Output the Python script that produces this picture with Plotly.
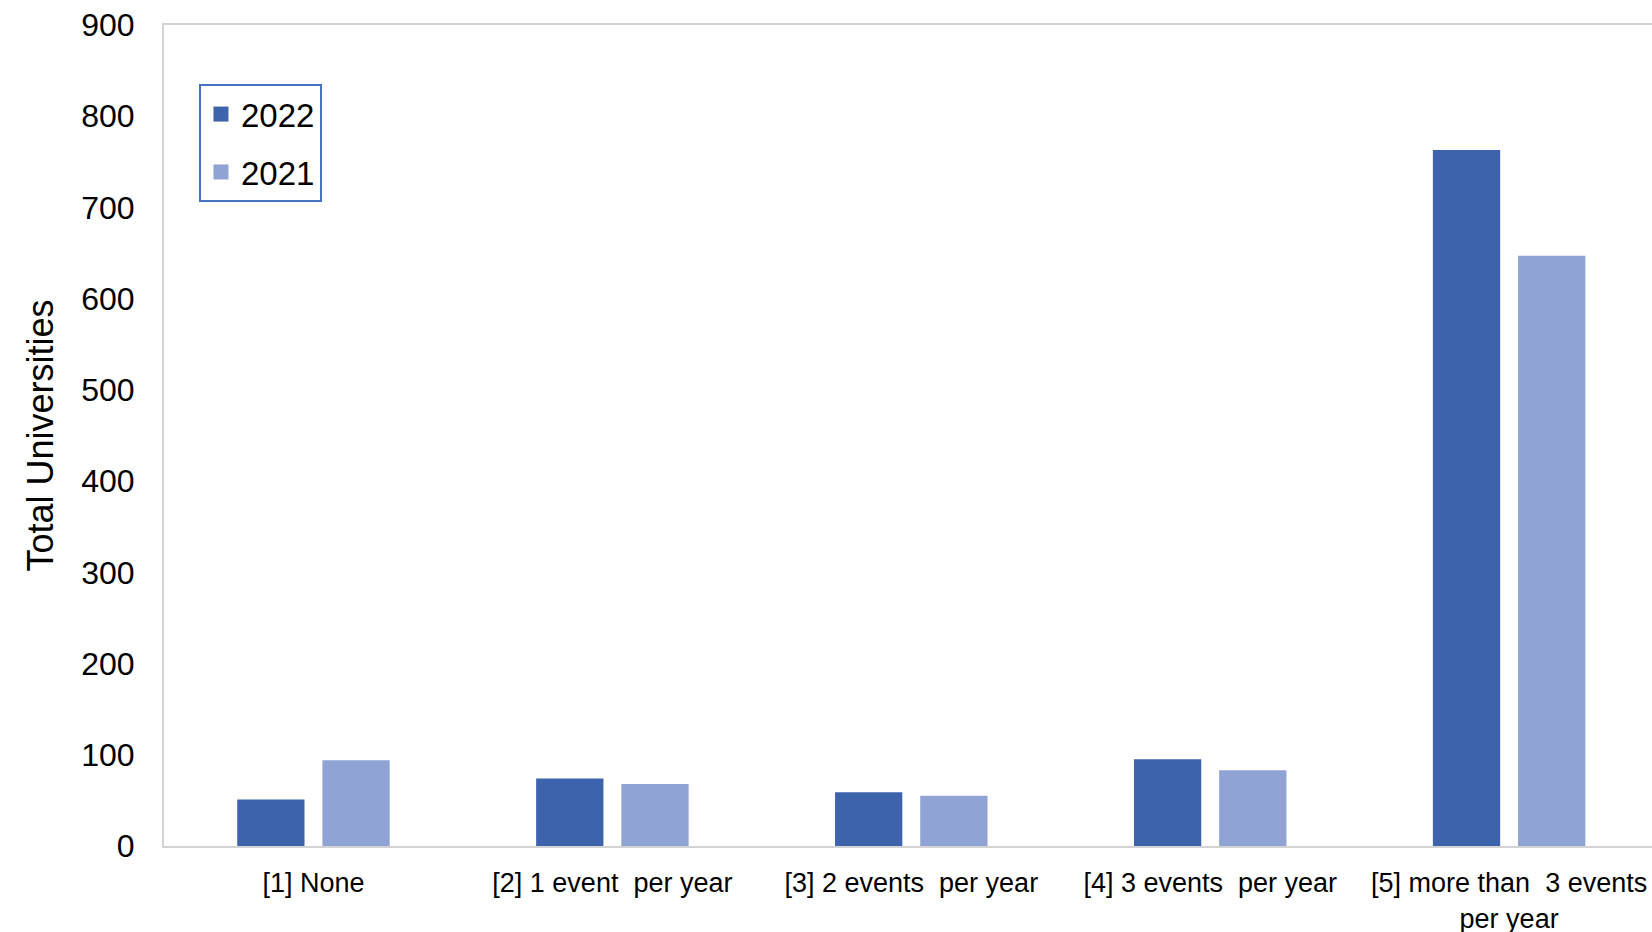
import plotly.graph_objects as go

# Event frequency categories and counts per survey year
categories = [
    "[1] None",
    "[2] 1 event\u00a0 per year",
    "[3] 2 events\u00a0 per year",
    "[4] 3 events\u00a0 per year",
    "[5] more than\u00a0 3 events<br>per year",
]
values_2022 = [51, 74, 59, 95, 763]
values_2021 = [94, 68, 55, 83, 647]

y_ticks = [0, 100, 200, 300, 400, 500, 600, 700, 800, 900]

color_2022 = "#3C63AC"
color_2021 = "#8FA3D4"
font_family = "Liberation Sans, Arial, sans-serif"

fig = go.Figure()
fig.add_trace(go.Bar(x=categories, y=values_2022, name="2022",
                     marker=dict(color=color_2022, line=dict(width=0)),
                     showlegend=False))
fig.add_trace(go.Bar(x=categories, y=values_2021, name="2021",
                     marker=dict(color=color_2021, line=dict(width=0)),
                     showlegend=False))

# Legend entries with square swatches
for name, col, grp in [("2022", color_2022, "a"), ("2021", color_2021, "b")]:
    fig.add_trace(go.Scatter(x=[None], y=[None], mode="markers", name=name,
                             legendgroup=grp,
                             marker=dict(symbol="square", size=15, color=col)))

fig.update_layout(
    width=1652, height=932,
    margin=dict(l=164, r=0, t=25, b=86, autoexpand=False),
    paper_bgcolor="white", plot_bgcolor="white",
    barmode="group", bargap=0.43, bargroupgap=0.21,
    font=dict(family=font_family, color="#000000"),
    legend=dict(
        x=0.0235, y=0.928, xanchor="left", yanchor="top",
        bordercolor="#4472C4", borderwidth=2, bgcolor="white",
        font=dict(size=33, family=font_family),
        tracegroupgap=12, itemwidth=30,
    ),
    xaxis=dict(
        type="category", range=[-0.5, 4.478], automargin=False,
        showline=True, linecolor="#D3D3D3", linewidth=2, mirror=True,
        showgrid=False, ticks="", ticklabelstandoff=12,
        tickfont=dict(size=27, family=font_family),
    ),
    yaxis=dict(
        range=[0, 900], tickvals=y_ticks, automargin=False,
        showline=True, linecolor="#D3D3D3", linewidth=2,
        showgrid=False, zeroline=False, ticks="", ticklabelstandoff=21,
        tickfont=dict(size=32, family=font_family),
        title=dict(text="Total Universities", standoff=17,
                   font=dict(size=36, family=font_family)),
    ),
)

fig.write_html("out.html")
